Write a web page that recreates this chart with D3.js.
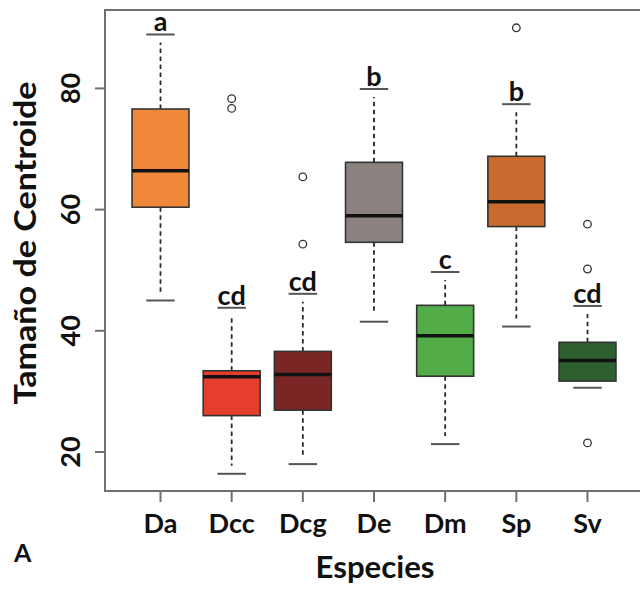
<!DOCTYPE html>
<html>
<head>
<meta charset="utf-8">
<script src="https://cdn.jsdelivr.net/npm/d3@7"></script>
<style>
  body { margin: 0; background: #fff; }
  text { font-family: Lato, "Open Sans", sans-serif; font-weight: 700; fill: #111; }
</style>
</head>
<body>
<div id="chart"></div>
<script>
var species = ["Da", "Dcc", "Dcg", "De", "Dm", "Sp", "Sv"];
var lowWhisker = [45.0, 16.4, 18.0, 41.5, 21.3, 40.7, 30.6];
var q1 = [60.4, 26.0, 26.9, 54.6, 32.5, 57.2, 31.7];
var median = [66.4, 32.4, 32.8, 59.0, 39.2, 61.3, 35.1];
var q3 = [76.6, 33.4, 36.6, 67.8, 44.2, 68.8, 38.1];
var highWhisker = [88.9, 43.8, 46.1, 79.9, 49.7, 77.4, 44.1];
var outliers = [[], [78.3, 76.7], [65.4, 54.3], [], [], [90.0], [57.6, 50.2, 21.5]];
var groupLetters = ["a", "cd", "cd", "b", "c", "b", "cd"];
var boxColors = ["#f0883a", "#e63e2d", "#7a2624", "#8b8280", "#52ad48", "#c96a2e", "#2e5f31"];
var yTicks = [20, 40, 60, 80];

(function () {
    var width = 640,
        height = 591;

    var svg = d3.select("#chart").append("svg")
        .attr("width", width)
        .attr("height", height);

    // R style: index positions 1..n, 4% padding on both axes
    var x = d3.scaleLinear().domain([0.22, 7.78]).range([105, 643]);
    var y = d3.scaleLinear().domain([13.56, 92.94]).range([491, 10]);

    var boxW = 0.8 * (x(2) - x(1));
    var capW = boxW / 2;
    var gap = 8;

    var data = species.map(function (s, i) {
        return {
            name: s, pos: i + 1, lo: lowWhisker[i], q1: q1[i], med: median[i],
            q3: q3[i], hi: highWhisker[i], out: outliers[i], letter: groupLetters[i], color: boxColors[i]
        };
    });

    // frame
    svg.append("rect")
        .attr("x", x(0.22)).attr("y", y(92.94))
        .attr("width", x(7.78) - x(0.22)).attr("height", y(13.56) - y(92.94))
        .attr("fill", "none").attr("stroke", "#707070").attr("stroke-width", 2);

    // y axis
    var yAxis = svg.append("g").attr("transform", "translate(" + x(0.22) + ",0)");
    yAxis.selectAll("line").data(yTicks).enter().append("line")
        .attr("x1", 0).attr("x2", -10)
        .attr("y1", function (d) { return y(d); }).attr("y2", function (d) { return y(d); })
        .attr("stroke", "#707070").attr("stroke-width", 2);
    yAxis.selectAll("text").data(yTicks).enter().append("text")
        .attr("transform", function (d) { return "translate(-25," + y(d) + ") rotate(-90)"; })
        .attr("text-anchor", "middle")
        .style("font-size", "27px")
        .text(function (d) { return d; });

    // x axis
    var xAxis = svg.append("g").attr("transform", "translate(0," + y(13.56) + ")");
    xAxis.selectAll("line").data(data).enter().append("line")
        .attr("x1", function (d) { return x(d.pos); }).attr("x2", function (d) { return x(d.pos); })
        .attr("y1", 0).attr("y2", 11)
        .attr("stroke", "#707070").attr("stroke-width", 2);
    xAxis.selectAll("text").data(data).enter().append("text")
        .attr("x", function (d) { return x(d.pos); })
        .attr("y", 42)
        .attr("text-anchor", "middle")
        .style("font-size", "27px")
        .text(function (d) { return d.name; });

    var g = svg.selectAll(".box").data(data).enter().append("g").attr("class", "box");

    // whiskers
    g.append("line")
        .attr("x1", function (d) { return x(d.pos); }).attr("x2", function (d) { return x(d.pos); })
        .attr("y1", function (d) { return y(d.q3); }).attr("y2", function (d) { return y(d.hi) + gap; })
        .attr("stroke", "#2a2a2a").attr("stroke-width", 1.8).attr("stroke-dasharray", "4.5,3.5");
    g.append("line")
        .attr("x1", function (d) { return x(d.pos); }).attr("x2", function (d) { return x(d.pos); })
        .attr("y1", function (d) { return y(d.q1); }).attr("y2", function (d) { return y(d.lo) - gap; })
        .attr("stroke", "#2a2a2a").attr("stroke-width", 1.8).attr("stroke-dasharray", "4.5,3.5");

    // caps
    ["hi", "lo"].forEach(function (k) {
        g.append("line")
            .attr("x1", function (d) { return x(d.pos) - capW / 2; })
            .attr("x2", function (d) { return x(d.pos) + capW / 2; })
            .attr("y1", function (d) { return y(d[k]); })
            .attr("y2", function (d) { return y(d[k]); })
            .attr("stroke", "#555").attr("stroke-width", 2);
    });

    // boxes
    g.append("rect")
        .attr("x", function (d) { return x(d.pos) - boxW / 2; })
        .attr("y", function (d) { return y(d.q3); })
        .attr("width", boxW)
        .attr("height", function (d) { return y(d.q1) - y(d.q3); })
        .attr("fill", function (d) { return d.color; })
        .attr("stroke", "#333").attr("stroke-width", 1.6);

    // medians
    g.append("line")
        .attr("x1", function (d) { return x(d.pos) - boxW / 2; })
        .attr("x2", function (d) { return x(d.pos) + boxW / 2; })
        .attr("y1", function (d) { return y(d.med); }).attr("y2", function (d) { return y(d.med); })
        .attr("stroke", "#111").attr("stroke-width", 3.5);

    // outliers
    g.selectAll("circle").data(function (d) {
        return d.out.map(function (v) { return { pos: d.pos, v: v }; });
    }).enter().append("circle")
        .attr("cx", function (d) { return x(d.pos); })
        .attr("cy", function (d) { return y(d.v); })
        .attr("r", 3.8)
        .attr("fill", "#fff").attr("stroke", "#333").attr("stroke-width", 1.3);

    // group letters above upper caps
    g.append("text")
        .attr("x", function (d) { return x(d.pos); })
        .attr("y", function (d) { return y(d.hi) - 3; })
        .attr("text-anchor", "middle")
        .style("font-size", "27px")
        .text(function (d) { return d.letter; });

    // axis titles
    svg.append("text")
        .attr("transform", "translate(36,243) rotate(-90)")
        .attr("text-anchor", "middle")
        .attr("textLength", 323)
        .attr("lengthAdjust", "spacingAndGlyphs")
        .style("font-size", "30px")
        .text("Tamaño de Centroide");
    svg.append("text")
        .attr("x", 375).attr("y", 578)
        .attr("text-anchor", "middle")
        .attr("textLength", 119)
        .attr("lengthAdjust", "spacingAndGlyphs")
        .style("font-size", "30px")
        .text("Especies");
    svg.append("text")
        .attr("x", 14).attr("y", 562)
        .style("font-size", "25px")
        .text("A");
})();
</script>
</body>
</html>
